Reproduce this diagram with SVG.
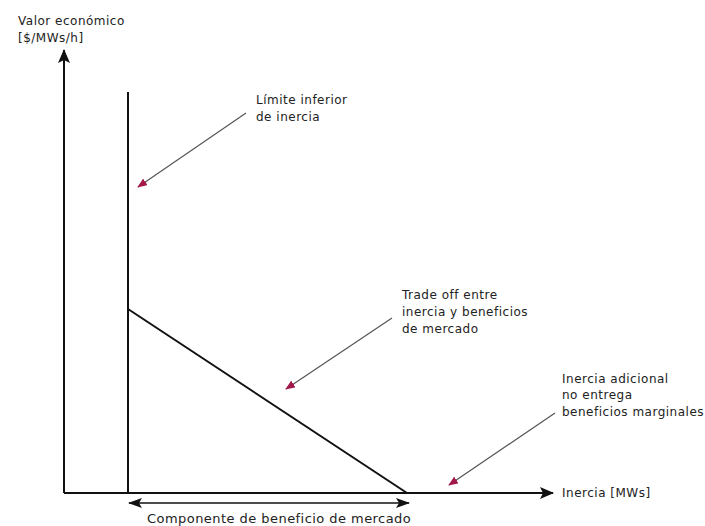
<svg xmlns="http://www.w3.org/2000/svg" width="705" height="526" viewBox="0 0 705 526">
<style>
text{font-family:"DejaVu Sans",Verdana,sans-serif;font-size:12px;letter-spacing:0.5px;fill:#222}
.ax{stroke:#111;stroke-width:2;fill:none}
.ld{stroke:#555;stroke-width:1.2;fill:none}
</style>
<defs>
<marker id="big" markerWidth="14" markerHeight="12" refX="13" refY="6" orient="auto" markerUnits="userSpaceOnUse">
<path d="M0,0 L14,6 L0,12 L3,6 Z" fill="#111"/>
</marker>
<marker id="dbl" markerWidth="14" markerHeight="10" refX="13" refY="5" orient="auto-start-reverse" markerUnits="userSpaceOnUse">
<path d="M0,0 L14,5 L0,10 L3,5 Z" fill="#111"/>
</marker>
<marker id="red" markerWidth="10" markerHeight="8" refX="9" refY="4" orient="auto" markerUnits="userSpaceOnUse">
<path d="M0,0 L10,4 L0,8 Z" fill="#a3184a"/>
</marker>
</defs>
<rect width="705" height="526" fill="#fff"/>
<g id="axes">
<path class="ax" d="M64,493 V50" marker-end="url(#big)"/>
<path class="ax" d="M64,493 H553" marker-end="url(#big)"/>
</g>
<g id="curve">
<path class="ax" d="M128,92 V493"/>
<path class="ax" d="M128,309 L407,493"/>
</g>
<g id="connectors">
<path class="ld" d="M246,113 L138,187" marker-end="url(#red)"/>
<path class="ld" d="M392,318 L286,389" marker-end="url(#red)"/>
<path class="ld" d="M555,413 L449,485" marker-end="url(#red)"/>
<path class="ax" style="stroke-width:1.5" d="M129,503 H409" marker-start="url(#dbl)" marker-end="url(#dbl)"/>
</g>
<g id="ylabel"><text x="18" y="25">Valor económico</text><text x="18" y="42">[$/MWs/h]</text></g>
<g id="xlabel"><text x="562" y="497">Inercia [MWs]</text></g>
<g id="n1"><text x="256" y="104">Límite inferior</text><text x="256" y="121">de inercia</text></g>
<g id="n2"><text x="402" y="299">Trade off entre</text><text x="402" y="316">inercia y beneficios</text><text x="402" y="333">de mercado</text></g>
<g id="n3"><text x="562" y="383">Inercia adicional</text><text x="562" y="399">no entrega</text><text x="562" y="416">beneficios marginales</text></g>
<g id="n4"><text x="147" y="523" style="font-size:13px;letter-spacing:0.45px">Componente de beneficio de mercado</text></g>
</svg>
